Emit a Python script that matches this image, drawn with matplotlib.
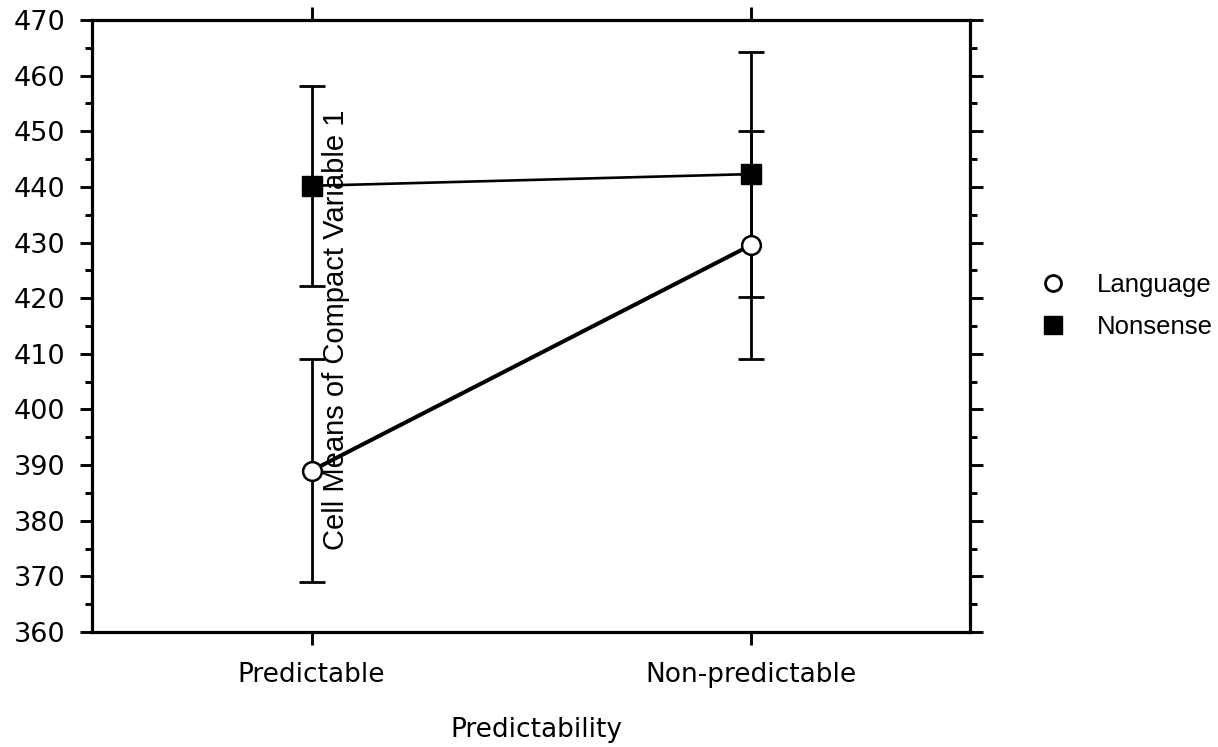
import numpy as np
import matplotlib
matplotlib.use("Agg")
import matplotlib.pyplot as plt
from matplotlib.lines import Line2D
from matplotlib.ticker import MultipleLocator

# cell means and error bar half-widths
categories = ["Predictable", "Non-predictable"]
language_mean = [389.0, 429.5]
language_err = [20.0, 20.5]
nonsense_mean = [440.2, 442.3]
nonsense_err = [18.0, 22.0]

x = np.arange(len(categories))

fig = plt.figure(figsize=(12.18, 7.47), dpi=100)
ax = fig.add_axes([92/1218, 1-632/747, (970-92)/1218, (632-20)/747])

lw = 2.0
ax.errorbar(x, nonsense_mean, yerr=nonsense_err, fmt="none", ecolor="black",
            elinewidth=lw, capsize=9.5, capthick=lw, zorder=2)
ax.errorbar(x, language_mean, yerr=language_err, fmt="none", ecolor="black",
            elinewidth=lw, capsize=9.5, capthick=lw, zorder=2)
ax.plot(x, nonsense_mean, color="black", lw=1.9, marker="s", markersize=14,
        markerfacecolor="black", markeredgecolor="black", zorder=3)
ax.plot(x, language_mean, color="black", lw=2.9, marker="o", markersize=13.5,
        markerfacecolor="white", markeredgecolor="black", markeredgewidth=1.8, zorder=3)

ax.set_xlim(-0.5, 1.5)
ax.set_ylim(360, 470)
ax.yaxis.set_major_locator(MultipleLocator(10))
ax.yaxis.set_minor_locator(MultipleLocator(5))
ax.set_xticks(x)
ax.set_xticklabels(categories, fontfamily="DejaVu Sans", fontsize=19)

for s in ax.spines.values():
    s.set_linewidth(2.3)

ax.tick_params(axis="y", which="major", direction="out", length=9, width=2.1,
               left=True, right=True, labelright=False, labelsize=19.5, pad=10)
ax.tick_params(axis="y", which="minor", direction="out", length=4.8, width=2.1,
               left=True, right=True)
ax.tick_params(axis="x", which="major", direction="out", length=9.5, width=2.1,
               top=True, bottom=True, pad=12)
for lab in ax.get_yticklabels():
    lab.set_fontfamily("DejaVu Sans")

ax.set_xlabel("Predictability", fontfamily="DejaVu Sans", fontsize=19)
ax.xaxis.set_label_coords((536-92)/878, (632-717)/612)

# the y label sits inside the plot in the original
ax.set_ylabel("Cell Means of Compact Variable 1", fontfamily="Liberation Sans",
              fontsize=21)
ax.yaxis.set_label_coords((350-92)/878, (632-329.5)/612)

handles = [
    Line2D([], [], ls="none", marker="o", markersize=11.5, markerfacecolor="white",
           markeredgecolor="black", markeredgewidth=2.0),
    Line2D([], [], ls="none", marker="s", markersize=13, markerfacecolor="black",
           markeredgecolor="black"),
]
fig.legend(handles, ["Language", "Nonsense"], loc="center left",
           bbox_to_anchor=(1040/1218, 1-306/747), frameon=False,
           prop={"family": "Liberation Sans", "size": 18.5},
           borderpad=0, borderaxespad=0, handlelength=1.0,
           handletextpad=1.2, labelspacing=0.7)

fig.savefig("out.png", dpi=100)
